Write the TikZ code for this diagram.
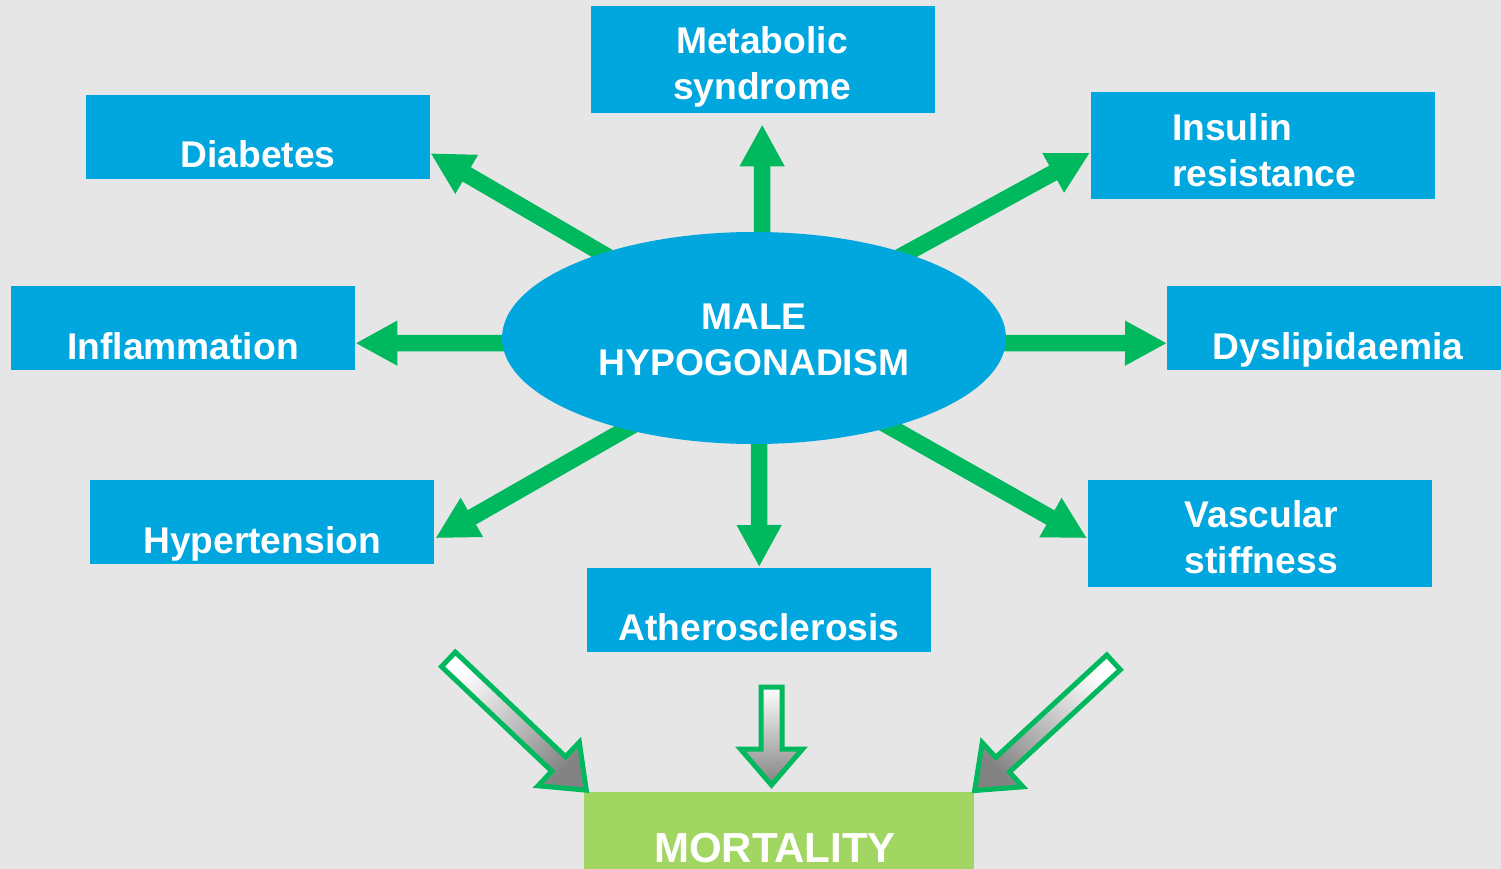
\documentclass[tikz,border=0pt]{standalone}
\usepackage{fontspec}
\setmainfont{Liberation Sans}
\usetikzlibrary{arrows.meta,shapes.geometric,calc}
\definecolor{bg}{RGB}{230,230,230}
\definecolor{boxblue}{RGB}{0,166,222}
\definecolor{agreen}{RGB}{0,185,94}
\definecolor{mgreen}{RGB}{162,214,98}
\definecolor{agray}{RGB}{130,130,130}
\definecolor{mgray}{RGB}{198,198,198}
\begin{document}
\begin{tikzpicture}[x=1pt,y=-1pt,
 box/.style={fill=boxblue, draw=none, minimum width=344pt, minimum height=84pt, inner sep=0pt, anchor=north west},
 tall/.style={box, minimum height=107pt},
 lbl/.style={text=white, font=\fontsize{37.2}{44}\selectfont\bfseries, inner sep=0pt, anchor=base},
 garrow/.style={draw=agreen, line width=16.5pt, -{Triangle[length=42pt,width=42pt]}},
 blockarrow/.style={draw=agreen, line width=5pt, line join=miter, top color=white, middle color=mgray, bottom color=agray}
]
\fill[bg] (0,0) rectangle (1501,869);
\useasboundingbox (0,0) rectangle (1501,869);
\clip (0,0) rectangle (1501,869);

% boxes
\node[box] (dia) at (86,95) {};
\node[tall] (met) at (591,6) {};
\node[tall] (ins) at (1091,92) {};
\node[box] (inf) at (11,286) {};
\node[box] (dys) at (1167,286) {};
\node[box] (hyp) at (90,480) {};
\node[tall] (vas) at (1088,480) {};
\node[box] (ath) at (587,568) {};
\node[fill=mgreen, minimum width=390pt, minimum height=90pt, inner sep=0pt, anchor=north west] (mort) at (584,792) {};

% central node position
\coordinate (c) at (754,338);

% green arrows (start inside the ellipse)
\draw[garrow] ($(c)+(-132,-73)$) -- ($(dia.east)+(0,16)$);
\draw[garrow] ($(c)+(8,-88)$) -- ($(met.south)+(-1,11)$);
\draw[garrow] ($(c)+(140,-78)$) -- ($(ins.west)+(-1,7)$);
\draw[garrow] ($(c)+(-234,5)$) -- ($(inf.east)+(0,15)$);
\draw[garrow] ($(c)+(236,5)$) -- ($(dys.west)+(0,15)$);
\draw[garrow] ($(c)+(-112,82)$) -- ($(hyp.east)+(1,16)$);
\draw[garrow] ($(c)+(5,92)$) -- ($(ath.north)+(0,-1)$);
\draw[garrow] ($(c)+(122,81)$) -- ($(vas.west)+(-1,4.5)$);

% ellipse
\node[ellipse, fill=boxblue, minimum width=504pt, minimum height=212pt, inner sep=0pt] (hypo) at (c) {};

% labels
\node[lbl] (diat) at (258,168) {Diabetes};
\node[lbl] (met1) at (762,54) {Metabolic};
\node[lbl] (met2) at (762,99.5) {syndrome};
\node[lbl, anchor=base west] (ins1) at (1172,140.5) {Insulin};
\node[lbl, anchor=base west] (ins2) at (1172,186) {resistance};
\node[lbl] (inft) at (183,359) {Inflammation};
\node[lbl] (dyst) at (1338,359) {Dyslipidaemia};
\node[lbl] (hypt) at (262,553) {Hypertension};
\node[lbl, anchor=base west] (vas1) at (1184.5,527.5) {Vascular};
\node[lbl, anchor=base west] (vas2) at (1184.5,573.5) {stiffness};
\node[lbl] (atht) at (759,640.5) {Atherosclerosis};
\node[lbl] (male1) at (754,329.5) {MALE};
\node[lbl] (male2) at (754,375) {HYPOGONADISM};
\node[lbl, font=\fontsize{42}{50}\selectfont\bfseries] (mortt) at (775,862) {MORTALITY};

% block arrows towards mortality
\begin{scope}[shift={(447,658)}, rotate=-43.5]
\draw[blockarrow, shading angle=45] (2,-10) -- (154,-10) -- (154,-30) -- (192,0) -- (154,30) -- (154,10) -- (2,10) -- cycle;
\end{scope}
\begin{scope}[shift={(771.5,685)}, rotate=-90]
\draw[blockarrow] (2,-10.5) -- (64,-10.5) -- (64,-31) -- (100,0) -- (64,31) -- (64,10.5) -- (2,10.5) -- cycle;
\end{scope}
\begin{scope}[shift={(1115,661)}, rotate=-137.3]
\draw[blockarrow, shading angle=-45] (2,-10) -- (153,-10) -- (153,-30) -- (191,0) -- (153,30) -- (153,10) -- (2,10) -- cycle;
\end{scope}
\end{tikzpicture}
\end{document}
